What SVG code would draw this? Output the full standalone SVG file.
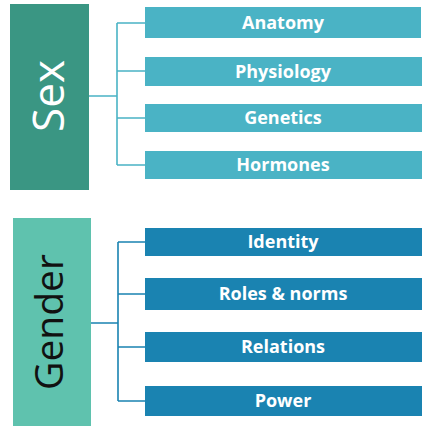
<svg xmlns="http://www.w3.org/2000/svg" width="428" height="428" viewBox="0 0 428 428">
<style>
.item{font-family:"Open Sans","Noto Sans",sans-serif;font-weight:bold;font-size:18px;fill:#fff;text-anchor:middle}
.big{font-family:"Open Sans","Noto Sans",sans-serif;text-anchor:middle}
.sx{fill:#4ab3c5}
.gi{fill:#1a83b1}
.cs{stroke:#4ab3c5;stroke-width:1.6;fill:none}
.cg{stroke:#1a83b1;stroke-width:1.6;fill:none}
</style>
<rect width="428" height="428" fill="#fff"/>
<g id="connectors">
<path class="cs" d="M89 96H117M117 23V165M117 23H145M117 71H145M117 118H145M117 165H145"/>
<path class="cg" d="M91 323H118M118 242V401M118 242H145M118 294H145M118 347H145M118 401H145"/>
</g>
<g id="sex">
<rect x="10" y="4" width="79" height="186" fill="#3a9683"/>
<text class="big" transform="translate(64,96) rotate(-90)" font-size="44" fill="#fff">Sex</text>
</g>
<g id="anatomy"><rect class="sx" x="145" y="7" width="276" height="31"/><text class="item" x="283" y="29">Anatomy</text></g>
<g id="physiology"><rect class="sx" x="145" y="57" width="277" height="29"/><text class="item" x="283" y="78">Physiology</text></g>
<g id="genetics"><rect class="sx" x="145" y="104" width="277" height="28"/><text class="item" x="283" y="124">Genetics</text></g>
<g id="hormones"><rect class="sx" x="145" y="151" width="277" height="28"/><text class="item" x="283" y="171">Hormones</text></g>
<g id="gender">
<rect x="13" y="218" width="78" height="208" fill="#5fc2ae"/>
<text class="big" transform="translate(63,322) rotate(-90)" font-size="39" fill="#111">Gender</text>
</g>
<g id="identity"><rect class="gi" x="145" y="228" width="277" height="28"/><text class="item" x="283" y="248">Identity</text></g>
<g id="roles"><rect class="gi" x="145" y="278" width="277" height="32"/><text class="item" x="283" y="300">Roles &amp; norms</text></g>
<g id="relations"><rect class="gi" x="145" y="332" width="277" height="30"/><text class="item" x="283" y="353">Relations</text></g>
<g id="power"><rect class="gi" x="145" y="386" width="277" height="30"/><text class="item" x="283" y="407">Power</text></g>
</svg>
